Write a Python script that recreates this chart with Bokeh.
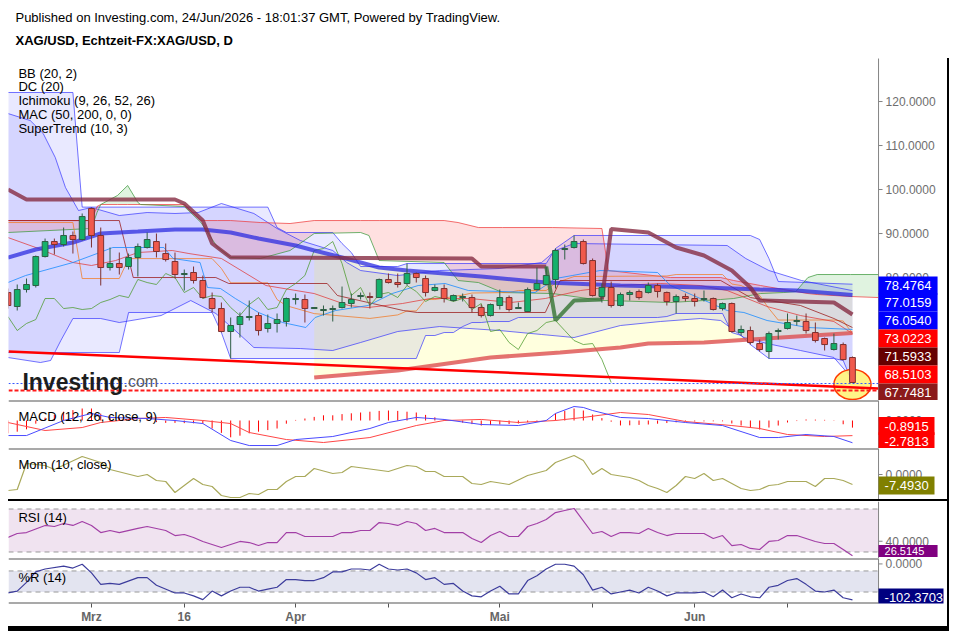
import numpy as np
from bokeh.plotting import figure
from bokeh.models import (Range1d, LinearAxis, FixedTicker, BoxAnnotation, Div, ColumnDataSource)
from bokeh.layouts import column, row
from bokeh.embed import file_html
from bokeh.resources import INLINE
from bokeh.core.properties import value

# ---------------- data (bar index 0 = 2 Mar) ----------------
bar_index = list(range(-9, 83))
open_ = [76.59, 73.41, 77.27, 78.18, 84.77, 88.18, 87.50, 89.55, 88.64, 95.68,
         89.55, 82.27, 83.18, 82.50, 84.55, 86.82, 88.18, 85.45, 83.64, 80.68,
         81.14, 79.32, 75.23, 72.95, 67.73, 69.32, 70.91, 71.36, 68.41, 69.55,
         70.00, 75.00, 75.00, 72.95, 72.50, 72.73, 73.18, 74.09, 75.68, 75.68,
         75.45, 79.55, 78.86, 78.64, 80.91, 79.77, 77.05, 77.50, 74.77, 75.45,
         75.45, 73.18, 71.36, 73.64, 75.45, 72.95, 72.27, 77.27, 78.41, 79.55,
         86.36, 86.82, 88.18, 83.86, 75.68, 77.73, 73.64, 76.14, 76.82, 76.59,
         78.18, 76.59, 74.55, 75.68, 75.23, 75.00, 75.23, 72.95, 74.09, 67.50,
         67.95, 65.00, 63.18, 67.73, 68.41, 70.00, 70.00, 67.50, 66.14, 63.64,
         64.77, 61.82]
high = [77.50, 78.41, 79.77, 85.00, 88.86, 88.86, 91.36, 90.45, 94.55, 95.91,
        91.36, 86.82, 85.68, 85.45, 87.73, 90.23, 90.00, 87.73, 85.68, 81.82,
        82.50, 80.45, 76.59, 74.32, 70.91, 72.05, 74.77, 72.05, 71.59, 71.82,
        75.45, 76.36, 76.14, 73.18, 73.64, 73.64, 77.95, 76.36, 76.59, 76.59,
        79.77, 80.91, 80.91, 83.18, 81.14, 80.45, 78.41, 78.41, 76.14, 76.36,
        76.14, 73.86, 74.09, 77.27, 75.91, 74.32, 77.73, 82.27, 82.50, 86.59,
        87.50, 89.55, 88.64, 84.32, 78.64, 79.09, 76.59, 77.05, 77.27, 78.86,
        78.64, 76.82, 76.14, 76.36, 76.36, 77.05, 75.45, 74.32, 74.32, 69.09,
        68.86, 65.91, 67.73, 68.41, 71.82, 71.36, 71.82, 69.77, 66.36, 67.27,
        65.23, 62.05]
low = [72.95, 72.50, 76.59, 77.73, 84.55, 85.23, 87.05, 85.45, 88.41, 86.82,
       78.18, 81.59, 80.68, 81.82, 80.23, 86.59, 84.55, 83.64, 79.77, 77.05,
       78.64, 75.23, 72.05, 67.50, 61.59, 66.36, 70.23, 66.82, 67.50, 67.50,
       68.86, 73.86, 69.77, 72.95, 71.36, 70.00, 72.95, 73.18, 75.00, 72.95,
       75.45, 78.64, 77.73, 78.18, 78.86, 75.68, 76.82, 74.32, 74.55, 74.55,
       72.05, 70.91, 71.14, 72.73, 72.27, 72.95, 72.27, 77.05, 78.18, 77.50,
       84.09, 86.59, 82.95, 75.68, 74.32, 73.18, 73.41, 74.77, 75.00, 76.36,
       75.45, 73.64, 71.82, 74.55, 73.41, 74.55, 72.50, 72.50, 67.50, 66.82,
       64.77, 63.18, 61.59, 65.91, 68.18, 69.09, 67.27, 65.23, 63.41, 63.41,
       61.14, 56.14]
close = [73.64, 77.27, 78.41, 84.77, 88.18, 87.50, 89.55, 88.64, 93.86, 89.55,
         82.27, 83.18, 82.27, 84.55, 87.05, 88.64, 85.91, 84.09, 80.68, 80.91,
         79.32, 75.45, 72.95, 67.73, 69.09, 71.14, 71.14, 67.95, 69.55, 70.45,
         75.23, 75.23, 72.95, 73.18, 72.73, 72.95, 74.32, 75.00, 75.91, 75.45,
         79.55, 78.86, 78.41, 80.91, 80.00, 76.59, 77.73, 75.23, 75.91, 75.68,
         73.18, 71.36, 73.86, 75.45, 72.73, 73.18, 77.27, 78.64, 80.45, 86.14,
         86.59, 88.18, 83.18, 75.91, 77.73, 73.64, 76.14, 76.59, 75.45, 78.18,
         76.82, 74.55, 75.68, 75.23, 74.55, 75.23, 72.73, 74.09, 67.73, 68.18,
         65.23, 63.64, 67.27, 67.95, 69.77, 70.23, 67.95, 65.68, 64.77, 65.00,
         61.36, 56.14]

# Donchian channel (20)
dc_up_x = [-9, -2, -1, 19, 20, 21, 26, 27, 28, 29, 33, 34, 49, 50, 52, 71, 72, 73, 74, 82]
dc_up_y = [122.05, 122.05, 96.0, 96.0, 91.36, 90.23, 90.23, 87.73, 85.68, 82.50, 82.50, 83.18,
           83.18, 86.59, 89.55, 89.55, 88.64, 84.32, 79.09, 78.48]
dc_lo_x = [-9, 3, 4, 13, 14, 15, 35, 36, 37, 38, 39, 40, 41, 42, 43, 45, 46, 61, 62, 63,
           68, 69, 70, 71, 72, 73, 80, 81, 82]
dc_lo_y = [62.95, 62.95, 72.05, 72.05, 67.50, 61.59, 61.59, 66.82, 66.82, 67.50, 67.50, 68.86,
           69.77, 69.77, 70.00, 70.00, 70.91, 70.91, 71.14, 71.82, 71.82, 67.50, 66.82, 64.77,
           63.18, 61.59, 61.59, 61.14, 56.14]
dc_mid_x = [-9, -2, -1, 3, 4, 13, 14, 15, 19, 20, 21, 24, 30, 33, 34, 35, 36, 37, 38, 40,
            41, 45, 46, 49, 50, 52, 62, 63, 68, 69, 70, 71, 72, 73, 74, 80, 81, 82]
dc_mid_y = [92.5, 92.5, 79.77, 79.77, 84.3, 84.3, 82.05, 78.8, 78.8, 75.0, 73.6, 71.8, 70.7,
            71.5, 72.4, 72.4, 75.0, 75.0, 75.34, 76.0, 76.48, 76.59, 77.05, 77.05, 78.75,
            80.23, 80.35, 80.68, 80.68, 78.52, 78.18, 77.16, 75.91, 72.95, 70.34, 70.34,
            70.11, 67.31]

# Bollinger bands (20, 2)
bb_up_x = [-9, -6.6, -5.2, -3.9, -2.8, -1.4, 0, 3, 6, 9, 11.5, 14, 17.5, 20, 22.5, 26, 27.5,
           29, 33, 37.5, 44, 48.5, 50, 52, 68.5, 70.5, 73, 76.5, 82]
bb_up_y = [117.27, 115.68, 112.73, 107.27, 100.45, 95.23, 95.91, 94.09, 94.77, 94.55, 94.77,
           96.82, 94.55, 91.14, 88.41, 86.14, 83.41, 81.59, 80.45, 81.59, 82.05, 83.41,
           86.14, 87.73, 87.27, 84.32, 81.59, 79.32, 77.02]
bb_lo_x = [-9, -5.5, -4.4, -3.3, -2, 1, 3, 7.5, 10.7, 13.4, 15.5, 17.5, 22.5, 26, 29, 33,
           37.5, 44, 48.5, 52, 57, 61.3, 65.6, 67.8, 70.3, 72.8, 76.4, 80, 82]
bb_lo_y = [61.82, 60.68, 61.14, 65.68, 70.68, 70.68, 69.77, 71.36, 74.77, 71.82, 67.95,
           64.09, 63.86, 63.41, 65.23, 67.73, 68.86, 67.95, 67.05, 66.36, 69.09, 70.00,
           70.68, 70.23, 66.36, 65.00, 63.41, 61.82, 57.0]
bb_mid_x = [-9, -5.7, -2, 0, 2.6, 5, 8.7, 10.5, 14, 18.8, 24, 27.7, 29.8, 33.5, 36.5, 40.8,
            45.2, 48.9, 52.7, 57, 61.3, 65.6, 68.5, 72.8, 76.4, 80, 82]
bb_mid_y = [89.09, 86.59, 83.41, 82.73, 83.86, 85.68, 86.14, 85.45, 84.32, 78.18, 76.36,
            73.64, 73.18, 74.09, 75.23, 75.23, 74.32, 75.23, 77.05, 78.18, 78.64, 78.18,
            77.05, 73.41, 71.36, 70.00, 67.27]

# Ichimoku (9, 26, 52, 26)
kijun_x = [-9, 3, 4.5, 13.4, 14.8, 25.4, 26.5, 33.6, 35.1, 48.9, 50.5, 67.8, 71, 76.4, 80, 82]
kijun_y = [92.95, 92.95, 80.00, 80.00, 78.64, 78.64, 75.91, 72.50, 72.05, 72.05, 79.32,
           79.32, 75.45, 73.64, 70.68, 68.64]
tenkan_x = [-9, -7.1, -2, 0.6, 2.3, 7.8, 8.8, 11.7, 12.5, 13.9, 15.5, 18, 20.6, 23.1, 24.1,
            26.3, 29.8, 32.4, 35.2, 38.1, 40.6, 47.8, 50, 51.8, 54.8, 61, 62.4, 65.6, 68.5,
            70.3, 72.8, 77.2, 82]
tenkan_y = [78.86, 80.45, 83.41, 85.45, 86.82, 86.82, 84.32, 83.41, 77.73, 77.50, 75.23,
            72.05, 69.77, 68.64, 70.91, 72.50, 73.64, 76.36, 78.18, 78.64, 77.05, 76.59,
            79.77, 80.45, 81.59, 81.14, 78.18, 75.23, 72.50, 72.05, 70.23, 68.64, 68.2]
cloud_x = [-9, 0, 0.6, 1, 2.8, 3.9, 5, 5.3, 10, 11.8, 13.6, 15, 18.2, 21.4, 24, 29, 29.9, 31,
           38, 39.5, 41.7, 44.3, 49.7, 55, 55.7, 62.4, 67.8, 69.2, 72.1, 74.6, 75.9, 77.2,
           78.2, 81.8, 84.81]
span_b = [92.95, 92.95, 96.14, 96.59, 96.59, 96.59, 96.59, 96.59, 96.59, 92.95, 92.95, 92.95,
          92.50, 92.27, 92.95, 92.95, 92.95, 92.95, 92.95, 92.50, 91.36, 91.36, 91.36, 91.14,
          81.59, 80.00, 80.00, 79.32, 78.18, 77.27, 76.82, 76.36, 76.14, 75.68, 75.45]
span_a = [90.23, 91.14, 94.77, 96.59, 98.64, 100.91, 97.05, 96.59, 96.14, 92.50, 86.82, 84.55,
          84.32, 86.14, 90.00, 90.23, 89.55, 83.86, 83.41, 79.32, 78.86, 76.59, 76.36, 74.77,
          74.77, 74.32, 75.00, 75.23, 76.36, 76.59, 76.82, 80.00, 80.68, 80.68, 80.68]
lag_x = list(range(-9, 57))
lag_y = [71.14, 67.95, 69.55, 70.45, 75.23, 75.23, 72.95, 73.18, 72.73, 72.95,
         74.32, 75.00, 75.91, 75.45, 79.55, 78.86, 78.41, 80.91, 80.00, 76.59,
         77.73, 75.23, 75.91, 75.68, 73.18, 71.36, 73.86, 75.45, 72.73, 73.18,
         77.27, 78.64, 80.45, 86.14, 86.59, 88.18, 83.18, 75.91, 77.73, 73.64,
         76.14, 76.59, 75.45, 78.18, 76.82, 74.55, 75.68, 75.23, 74.55, 75.23,
         72.73, 74.09, 67.73, 68.18, 65.23, 63.64, 67.27, 67.95, 69.77, 70.23,
         67.95, 65.68, 64.77, 65.00, 61.36, 56.14]

# MAC (50, 200)
ma50_x = [-9, -6, -2, 1, 5, 9, 12, 15, 18, 22, 24, 27, 31, 34, 42, 49, 57, 66, 72, 76, 82]
ma50_y = [84.55, 86.36, 87.95, 90.00, 90.45, 90.91, 90.91, 90.23, 88.86, 87.27, 86.14, 84.55,
          82.27, 81.59, 80.23, 78.86, 78.18, 77.73, 77.27, 77.05, 76.05]
ma200_x = [24, 33, 43, 50.5, 57, 60, 66, 71, 76, 82]
ma200_y = [57.27, 58.86, 61.82, 62.95, 64.09, 65.00, 65.23, 65.91, 66.59, 67.40]

# SuperTrend (10, 3)
st_down1_x = [-9, -7, 9, 10, 12, 13, 15, 41, 42, 49]
st_down1_y = [100.0, 97.73, 97.73, 96.82, 92.95, 87.73, 84.55, 84.32, 82.50, 82.50]
st_up_x = [49, 50, 52, 55]
st_up_y = [82.50, 70.23, 74.77, 75.00]
st_down2_x = [55, 56, 60, 63, 66, 69, 71, 72, 80, 82]
st_down2_y = [75.00, 91.02, 90.23, 86.82, 85.00, 81.59, 77.73, 74.77, 74.32, 71.59]

# drawings
trend_x = [-8.94, 84.81]
trend_y = [63.18, 54.77]
hline_blue = 55.91
hline_red = 54.32

# right price-scale labels (value text, level, colour)
main_ticks = [80, 90, 100, 110, 120]
main_tags = ["78.4764", "77.0159", "76.0540", "73.0223", "71.5933", "68.5103", "67.7481"]
main_tag_y = [78.18, 74.32, 70.23, 66.14, 62.05, 57.95, 53.86]
main_tag_col = ["#0000ff", "#0000ff", "#0000ff", "#ff0000", "#660000", "#ff0000", "#8b1a1a"]

# MACD (12, 26, close, 9)
macd_x = [-9, -7, -3, 0, 2, 6, 9, 12, 15, 17, 20, 22, 26, 30, 32, 35, 38, 42, 46, 49, 50, 52,
          53, 54, 57, 60, 64, 68, 72, 74, 77, 80, 82]
macd_y = [-1.88, -1.88, 0.0, 0.88, 0.38, 0.25, 0.0, -0.38, -2.5, -3.13, -3.13, -2.38, -2.0,
          -1.0, -0.25, 0.38, 0.13, -0.5, -0.63, 0.0, 0.88, 1.75, 1.63, 1.25, 0.38, 0.25,
          -0.25, -0.63, -2.13, -2.13, -1.75, -2.0, -2.78]
signal_x = [-9, -5, -1, 1, 5, 8, 12, 15, 17, 21, 25, 30, 35, 38, 42, 46, 50, 53, 57, 60, 64,
            69, 72, 75, 79, 82]
signal_y = [-0.25, -1.25, -0.88, -0.25, 0.25, 0.38, 0.0, -0.38, -1.5, -2.38, -2.75, -2.13,
            -0.63, 0.0, 0.13, -0.25, 0.0, 0.38, 1.0, 0.75, -0.13, -0.63, -1.0, -1.75, -2.0,
            -1.89]
hist = [-1.6, -1.4, -1.1, -0.4, 0.35, 0.7, 1.1, 1.3, 1.5, 1.5,
        0.85, 0.5, 0.35, 0.2, 0.03, -0.05, -0.2, -0.3, -0.3, -0.33,
        -0.35, -0.38, -1.0, -1.55, -2.1, -1.9, -1.6, -1.4, -1.2, -1.0,
        -0.4, 0.07, 0.25, 0.45, 0.65, 0.65, 0.8, 0.9, 1.0, 1.1,
        1.2, 1.25, 1.2, 1.1, 1.0, 0.7, 0.4, 0.13, -0.03, -0.27,
        -0.45, -0.63, -0.57, -0.5, -0.45, -0.38, -0.21, -0.07, 0.06, 0.88,
        1.2, 1.5, 1.25, 0.75, 0.3, -0.15, -0.62, -0.6, -0.55, -0.5,
        -0.4, -0.32, -0.23, -0.12, -0.12, -0.11, -0.1, -0.1, -0.37, -0.63,
        -0.87, -1.13, -0.88, -0.63, -0.25, -0.07, 0.13, 0.11, 0.08, -0.04,
        -0.47, -0.89]

# Mom (10, close)
mom_x = [-9, -8, -7, -6, -5, -4, -1, 1, 2, 5, 6, 7, 8, 9, 11, 12, 13, 14, 15, 16, 17, 18, 19,
         20, 21, 22, 23, 24, 26, 27, 28, 32, 34, 35, 36, 37, 38, 40, 41, 42, 43, 45, 47, 49,
         50, 52, 53, 54, 55, 56, 58, 59, 60, 61, 62, 63, 64, 65, 66, 67, 68, 69, 70, 71, 72,
         73, 74, 75, 77, 78, 79, 80, 81, 82]
mom_y = [-12.0, -11.25, 8.25, 7.5, 6.75, 3.75, 13.5, 9.0, 3.75, -1.5, 0.0, -4.5, -5.25, -13.5,
         -3.0, -7.5, -9.0, -15.75, -17.25, -17.25, -14.25, -15.0, -11.25, -11.25, -5.25, -1.5,
         -1.5, 4.5, 0.75, 1.5, 6.0, 2.25, 6.75, 6.0, 2.25, 2.25, -1.5, -1.5, -6.75, -7.5,
         -5.25, -7.5, -0.75, 3.0, 9.0, 14.25, 10.5, 0.0, 4.5, 0.0, -2.25, -4.5, -8.25, -10.5,
         -13.5, -8.25, -1.5, -3.0, 0.75, -4.5, -3.0, -6.75, -10.5, -12.0, -11.25, -8.25, -7.5,
         -5.25, -5.25, -9.0, -3.0, -3.0, -4.5, -7.49]

# RSI (14)
rsi_x = [-9, -8, -7, -5, -4, -3, -2, -1, 0, 1, 2, 3, 5, 6, 8, 9, 10, 11, 12, 14, 16, 17, 18,
         19, 20, 21, 22, 23, 26, 27, 28, 29, 30, 31, 32, 33, 34, 35, 36, 37, 38, 40, 41, 42,
         43, 44, 45, 46, 47, 48, 49, 50, 51, 52, 54, 55, 56, 57, 58, 59, 60, 61, 62, 63, 64,
         66, 67, 68, 69, 70, 71, 72, 73, 74, 75, 76, 77, 78, 79, 80, 81, 82]
rsi_y = [43.5, 47.2, 48.1, 54.7, 53.7, 56.5, 54.7, 58.4, 54.7, 48.1, 50.0, 48.1, 51.9, 53.7,
         50.0, 45.3, 46.3, 43.5, 39.8, 34.2, 39.8, 38.8, 36.0, 38.8, 38.8, 48.1, 48.1, 44.4,
         44.4, 48.1, 48.1, 50.0, 50.0, 57.4, 56.5, 54.7, 58.4, 56.5, 50.0, 51.9, 48.1, 48.1,
         42.6, 38.8, 45.3, 49.1, 44.4, 44.4, 53.7, 56.5, 60.2, 66.7, 68.6, 70.5, 47.2, 49.1,
         44.4, 48.1, 48.1, 47.2, 51.9, 48.1, 45.3, 47.2, 47.2, 47.2, 42.6, 45.3, 36.0, 37.0,
         33.3, 32.3, 39.8, 40.7, 45.3, 45.3, 42.6, 39.8, 37.9, 37.9, 32.3, 26.51]

# %R (14)
wr_x = [-9, -8, -7, -6, -5, -3, -2, -1, 0, 1, 2, 3, 5, 6, 7] + list(range(9, 83))
wr_y = [-82.7, -77.3, -52.7, -22.7, -14.5, -6.4, -11.8, -0.9, -25.5, -58.2, -55.5, -58.2,
        -39.1, -39.1, -60.9, -82.7, -82.7, -90.9, -101.8, -77.3, -90.9, -77.3, -66.4, -66.4,
        -77.3, -71.8, -66.4, -44.5, -44.5, -47.3, -47.3, -39.1, -22.7, -22.7, -14.5, -14.5,
        -17.3, -0.9, -14.5, -17.3, -14.5, -25.5, -44.5, -39.1, -58.2, -55.5, -77.3, -90.9,
        -93.6, -77.3, -63.6, -85.5, -85.5, -47.3, -33.6, -14.5, -0.9, -0.9, -6.4, -30.9,
        -74.5, -66.4, -85.5, -80.0, -74.5, -82.7, -66.4, -77.3, -90.9, -82.7, -82.7, -82.7,
        -80.0, -93.6, -74.5, -96.4, -85.5, -93.6, -96.4, -66.4, -60.9, -47.3, -41.8, -58.2,
        -77.3, -80.0, -74.5, -96.4, -102.37]

# time axis
tick_pos = [0, 10, 22, 32, 44, 54, 65, 75]
tick_text = ["Mrz", "16", "Apr", "", "Mai", "", "Jun", ""]

# ---------------- styling helpers ----------------
FONT = "Liberation Sans"
PX = 9.28            # pixels per bar
X0 = -8.94           # left edge of the chart
XA = 84.81           # price-scale line
X1 = 92.24           # right edge of the page area
FIG_W = 939
LX = -7.87           # left text position


def make_panel(height, y0, y1, bottom=0):
    p = figure(width=FIG_W, height=height, x_range=Range1d(X0, X1), y_range=Range1d(y0, y1),
               output_backend="svg", toolbar_location=None,
               x_axis_location=None, y_axis_location=None,
               min_border_left=0, min_border_right=0, min_border_top=0,
               min_border_bottom=bottom)
    p.outline_line_color = None
    p.xgrid.visible = False
    p.ygrid.visible = False
    return p


def txt(p, x, y, s, size="13px", color="#000000", style="normal", align="left",
        baseline="middle"):
    p.text(x=[x], y=[y], text=[s], text_font=value(FONT), text_font_size=value(size),
           text_color=color, text_font_style=style, text_align=align, text_baseline=baseline)


def price_scale(p, ticks, y_lo, y_hi):
    n = len(ticks)
    p.segment(x0=[XA], y0=[y_lo], x1=[XA], y1=[y_hi], line_color="#858585", line_width=1)
    p.segment(x0=[XA] * n, y0=ticks, x1=[XA + 4 / PX] * n, y1=ticks, line_color="#858585",
              line_width=1)
    p.text(x=[XA + 7 / PX] * n, y=ticks, text=[f"{t:.4f}" for t in ticks],
           text_font=value(FONT), text_font_size=value("12px"), text_color="#6e6e6e",
           text_align="left", text_baseline="middle")


def price_tags(p, ys, texts, colors, h, w=6.36, size="13px"):
    n = len(ys)
    p.rect(x=[XA + w / 2] * n, y=ys, width=w, height=h, fill_color=colors, line_color=None)
    p.text(x=[XA + 6 / PX] * n, y=ys, text=texts, text_font=value(FONT),
           text_font_size=value(size), text_color="white", text_align="left",
           text_baseline="middle")


def top_rule(p, y):
    p.segment(x0=[X0], y0=[y], x1=[XA], y1=[y], line_color="#555555", line_width=2)


# ---------------- main price panel ----------------
pm = make_panel(392, 52.05, 141.14)

pm.patch(dc_up_x + dc_lo_x[::-1], dc_up_y + dc_lo_y[::-1], fill_color="#3333ff",
         fill_alpha=0.11, line_color=None)
pm.patch(bb_up_x + bb_lo_x[::-1], bb_up_y + bb_lo_y[::-1], fill_color="#3333ff",
         fill_alpha=0.11, line_color=None)
sa = np.array(span_a)
sb = np.array(span_b)
ctop = np.maximum(sa, sb)
pm.varea(x=cloud_x, y1=sa, y2=ctop, fill_color="#ff0000", fill_alpha=0.12)
pm.varea(x=cloud_x, y1=sb, y2=ctop, fill_color="#00a000", fill_alpha=0.12)
m50 = [(x, y) for x, y in zip(ma50_x, ma50_y) if x >= ma200_x[0]]
pm.patch([x for x, _ in m50] + ma200_x[::-1], [y for _, y in m50] + ma200_y[::-1],
         fill_color="#ffff00", fill_alpha=0.13, line_color=None)

pm.line(dc_up_x, dc_up_y, line_color="#2a2aff", line_alpha=0.65, line_width=1)
pm.line(dc_lo_x, dc_lo_y, line_color="#2a2aff", line_alpha=0.65, line_width=1)
pm.line(bb_up_x, bb_up_y, line_color="#2a2aff", line_alpha=0.65, line_width=1)
pm.line(bb_lo_x, bb_lo_y, line_color="#2a2aff", line_alpha=0.65, line_width=1)
pm.line(cloud_x, span_b, line_color="#ee3333", line_alpha=0.7, line_width=1)
pm.line(cloud_x, span_a, line_color="#3f9a3f", line_alpha=0.75, line_width=1)
pm.line(dc_mid_x, dc_mid_y, line_color="#f08030", line_alpha=0.8, line_width=1)
pm.line(bb_mid_x, bb_mid_y, line_color="#e03a3a", line_alpha=0.75, line_width=1)
pm.line(kijun_x, kijun_y, line_color="#991515", line_alpha=0.75, line_width=1)
pm.line(tenkan_x, tenkan_y, line_color="#1a8cff", line_alpha=0.8, line_width=1)
pm.line(lag_x, lag_y, line_color="#4a9a2a", line_alpha=0.75, line_width=1)

pm.line(ma200_x, ma200_y, line_color="#dd4f4f", line_alpha=0.8, line_width=4)
pm.line(ma50_x, ma50_y, line_color="#2c2ce0", line_alpha=0.75, line_width=4)
pm.line(st_down1_x, st_down1_y, line_color="#862c42", line_alpha=0.8, line_width=4)
pm.line(st_up_x, st_up_y, line_color="#3d7a3d", line_alpha=0.85, line_width=4)
pm.line(st_down2_x, st_down2_y, line_color="#862c42", line_alpha=0.8, line_width=4)

pm.ellipse(x=[82.0], y=[55.68], width=4.0, height=6.8, fill_color="#fff27a", fill_alpha=0.9,
           line_color="#ff3b00", line_width=1.5)
pm.line(trend_x, trend_y, line_color="#ff0000", line_width=2.5)
pm.segment(x0=[X0], y0=[hline_blue], x1=[XA], y1=[hline_blue], line_color="#3355ff",
           line_width=1, line_dash="2 2")
pm.segment(x0=[X0], y0=[hline_red], x1=[XA], y1=[hline_red], line_color="#ff1a1a",
           line_width=2, line_dash="4 2")

o = np.array(open_)
c = np.array(close)
inc = c >= o
src = ColumnDataSource(dict(
    x=bar_index, top=np.maximum(o, c), bottom=np.minimum(o, c), high=high, low=low,
    fill=np.where(inc, "#14b06b", "#f0594c").tolist(),
    edge=np.where(inc, "#2f5e45", "#7d3131").tolist()))
pm.segment(x0="x", y0="high", x1="x", y1="low", source=src, line_color="edge", line_width=1)
pm.vbar(x="x", width=0.62, top="top", bottom="bottom", source=src, fill_color="fill",
        line_color="edge", line_width=1)

txt(pm, -7.44, 56.36, "Investing", size="23px", color="#1d1d1d", style="bold",
    baseline="alphabetic")
txt(pm, 3.45, 56.36, ".com", size="16px", color="#5a5a5a", baseline="alphabetic")

txt(pm, -8.19, 139.09,
    "Published on Investing.com, 24/Jun/2026 - 18:01:37 GMT, Powered by TradingView.")
txt(pm, -8.19, 133.86, "XAG/USD, Echtzeit-FX:XAG/USD, D", style="bold")
for yv, s in zip([126.36, 123.41, 120.23, 117.05, 113.86],
                 ["BB (20, 2)", "DC (20)", "Ichimoku (9, 26, 52, 26)", "MAC (50, 200, 0, 0)",
                  "SuperTrend (10, 3)"]):
    txt(pm, LX, yv, s)

price_scale(pm, main_ticks, 52.05, 129.77)
price_tags(pm, main_tag_y, main_tags, main_tag_col, 4.09)

# ---------------- MACD ----------------
pmacd = make_panel(48, -3.5, 2.5)
top_rule(pmacd, 2.5)
pmacd.segment(x0=bar_index, y0=0, x1=bar_index, y1=hist, line_color="#ff0000", line_width=1)
pmacd.line(signal_x, signal_y, line_color="#ff4646", line_width=1)
pmacd.line(macd_x, macd_y, line_color="#4a4aff", line_width=1)
txt(pmacd, LX, 0.5, "MACD (12, 26, close, 9)")
price_scale(pmacd, [0], -3.5, 2.5)
price_tags(pmacd, [-0.69, -2.6], ["-0.8915", "-2.7813"], ["#ff0000", "#ff0000"], 2.25,
           w=6.03)

# ---------------- Momentum ----------------
pmom = make_panel(51, -18.75, 19.5)
top_rule(pmom, 19.5)
pmom.line(mom_x, mom_y, line_color="#a9a95a", line_width=1.2)
txt(pmom, LX, 7.5, "Mom (10, close)")
price_scale(pmom, [0], -18.75, 19.5)
price_tags(pmom, [-8.25], ["-7.4930"], ["#808000"], 13.5, w=6.03)

sep = Div(text="", width=FIG_W, height=2, margin=(0, 0, 0, 0),
          styles={"background-color": "#000000", "overflow": "hidden"})

# ---------------- RSI ----------------
prsi = make_panel(57, 23.95, 76.98)
prsi.add_layout(BoxAnnotation(left=X0, right=XA, bottom=30, top=70, fill_color="#f0e3f0",
                              fill_alpha=1.0, line_color=None, level="underlay"))
prsi.segment(x0=[X0, X0], y0=[70, 30], x1=[XA, XA], y1=[70, 30], line_color="#999999",
             line_width=1, line_dash="5 4")
prsi.line(rsi_x, rsi_y, line_color="#a23fa6", line_width=1.2)
txt(prsi, LX, 62.1, "RSI (14)")
price_scale(prsi, [40], 23.95, 76.98)
price_tags(prsi, [30.93], ["26.5145"], ["#800080"], 11.16, size="11px")

# ---------------- Williams %R ----------------
pwr = make_panel(68, -112.7, 15.45, bottom=21)
top_rule(pwr, 15.45)
pwr.add_layout(BoxAnnotation(left=X0, right=XA, bottom=-80, top=-20, fill_color="#e3e4f0",
                             fill_alpha=1.0, line_color=None, level="underlay"))
pwr.segment(x0=[X0, X0], y0=[-20, -80], x1=[XA, XA], y1=[-20, -80], line_color="#999999",
            line_width=1, line_dash="5 4")
pwr.line(wr_x, wr_y, line_color="#3c3c9c", line_width=1.2)
txt(pwr, LX, -39.1, "%R (14)")
pwr.segment(x0=[X0], y0=[-112.7], x1=[XA], y1=[-112.7], line_color="#555555", line_width=2)
price_scale(pwr, [0], -112.7, 15.45)
price_tags(pwr, [-94.5], ["-102.3703"], ["#000080"], 49.1, w=7.0)

xa = LinearAxis(ticker=FixedTicker(ticks=tick_pos),
                major_label_overrides={k: v for k, v in zip(tick_pos, tick_text)})
xa.axis_line_color = None
xa.major_tick_line_color = "#555555"
xa.major_tick_in = 0
xa.major_tick_out = 4
xa.minor_tick_in = 0
xa.minor_tick_out = 0
xa.major_label_text_font = FONT
xa.major_label_text_font_size = "12px"
xa.major_label_text_font_style = "bold"
xa.major_label_text_color = "#666666"
xa.major_label_standoff = 2
pwr.add_layout(xa, "below")

# ---------------- layout ----------------
left = column(pm, pmacd, pmom, sep, prsi, pwr, spacing=0)
right = column(Div(text="", width=2, height=50, margin=(0, 0, 0, 0)),
               Div(text="", width=2, height=568, margin=(0, 0, 0, 0),
                   styles={"background-color": "#000000", "overflow": "hidden"}),
               spacing=0)
body = row(left, right, spacing=0)
bottom_bar = Div(text="", width=FIG_W + 2, height=5, margin=(0, 0, 0, 0),
                 styles={"background-color": "#000000", "overflow": "hidden"})
root = column(body, bottom_bar, spacing=0, margin=(8, 0, 0, 8))

open("out.html", "w").write(file_html(root, INLINE))
